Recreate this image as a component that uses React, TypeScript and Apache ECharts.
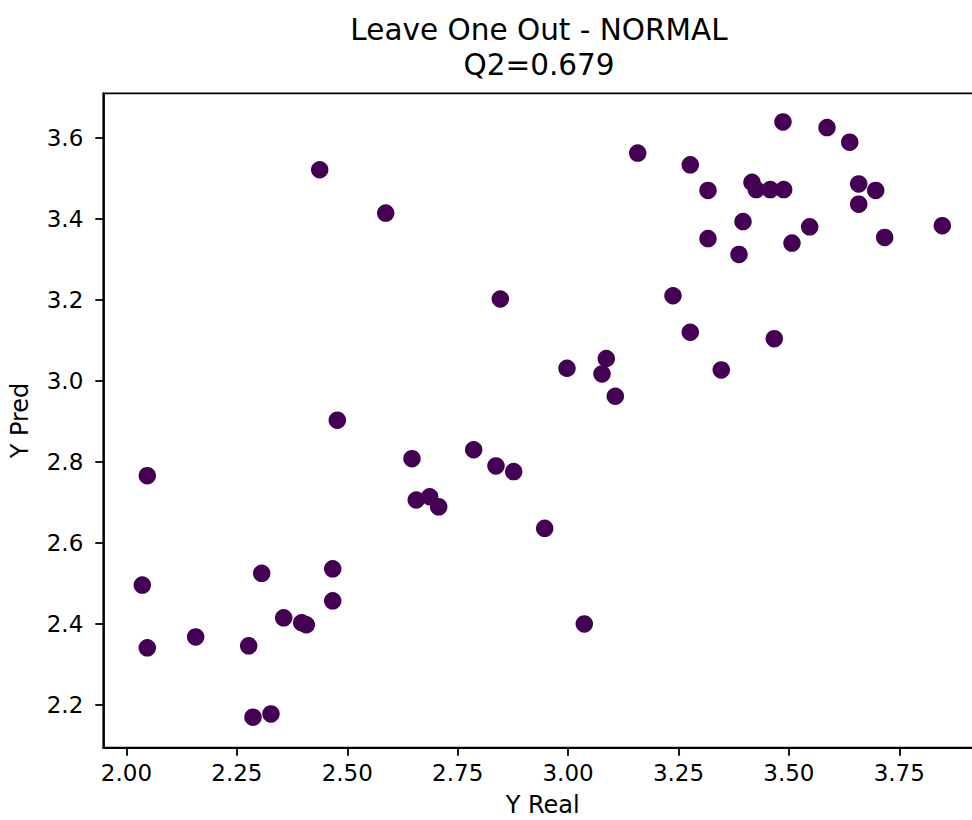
import React, { useEffect, useRef } from "react";
import * as echarts from "echarts";

const yReal = [
  2.4375, 2.587, 3.1576, 2.8465, 3.2375, 2.9975, 3.0865, 3.0768, 3.1069,
  3.4866, 3.5863, 3.6377, 3.2767, 3.3168, 3.4164, 3.4262, 3.4579, 3.4882,
  3.6581, 3.6966, 3.6581, 3.3961, 3.5471, 3.8474, 3.3168, 3.507, 3.7169,
  3.387, 3.2767, 3.4669, 3.3469, 2.4774, 2.0471, 2.0358, 2.3062, 2.467,
  2.467, 2.356, 2.3967, 2.4072, 2.1567, 2.0471, 2.2767, 2.2865, 2.3272,
  2.6465, 2.7862, 2.8367, 2.8768, 2.6562, 2.6866, 2.707, 2.947, 3.0367,
];
const yPred = [
  3.521, 3.414, 3.562, 3.202, 3.21, 3.031, 3.055, 3.017, 2.962,
  3.639, 3.625, 3.589, 3.533, 3.47, 3.49, 3.472, 3.472, 3.472,
  3.486, 3.47, 3.436, 3.393, 3.38, 3.383, 3.351, 3.34, 3.354,
  3.312, 3.12, 3.104, 3.027, 2.903, 2.766, 2.496, 2.525, 2.536,
  2.457, 2.415, 2.403, 2.398, 2.368, 2.341, 2.346, 2.17, 2.178,
  2.808, 2.83, 2.79, 2.776, 2.706, 2.714, 2.689, 2.636, 2.4,
];
const xTicks = [2.0, 2.25, 2.5, 2.75, 3.0, 3.25, 3.5, 3.75];
const yTicks = [2.2, 2.4, 2.6, 2.8, 3.0, 3.2, 3.4, 3.6];
const titleText = "Leave One Out - NORMAL";
const subtitleText = "Q2=0.679";
const xName = "Y Real";
const yName = "Y Pred";

const FONT = "DejaVu Sans";

export default function App() {
  const ref = useRef<HTMLDivElement>(null);
  useEffect(() => {
    const chart = echarts.init(ref.current!, null, { renderer: "svg" });
    const points = yReal.map((x, i) => [x, yPred[i]]);
    chart.setOption({
      animation: false,
      backgroundColor: "#ffffff",
      textStyle: { fontFamily: FONT, color: "#000" },
      graphic: [
        {
          type: "text",
          x: 539,
          y: 12,
          style: {
            text: titleText + "\n" + subtitleText,
            fill: "#000",
            fontSize: 29.5,
            fontFamily: FONT,
            align: "center",
            verticalAlign: "top",
            lineHeight: 35,
          },
        },
      ],
      grid: {
        left: 103.3,
        top: 93.3,
        width: 878.7,
        height: 654.4,
        show: true,
        borderColor: "#000",
        borderWidth: 1.8,
        backgroundColor: "transparent",
        containLabel: false,
        outerBoundsMode: "none",
      },
      xAxis: {
        type: "value",
        min: 1.9475,
        max: 3.9373,
        name: xName,
        nameLocation: "middle",
        nameGap: 45,
        nameTextStyle: { fontSize: 24, color: "#000", fontFamily: FONT },
        splitLine: { show: false },
        axisLine: { show: true, onZero: false, lineStyle: { color: "#000", width: 1.8 } },
        axisTick: {
          show: true,
          inside: false,
          length: 8,
          customValues: xTicks,
          lineStyle: { color: "#000", width: 1.8 },
        },
        axisLabel: {
          customValues: xTicks,
          formatter: (v: number) => v.toFixed(2),
          fontSize: 23,
          color: "#000",
          fontFamily: FONT,
          margin: 14,
        },
      },
      yAxis: {
        type: "value",
        min: 2.0946,
        max: 3.7096,
        name: yName,
        nameLocation: "middle",
        nameGap: 71,
        nameRotate: 90,
        nameTextStyle: { fontSize: 24, color: "#000", fontFamily: FONT },
        splitLine: { show: false },
        axisLine: { show: true, onZero: false, lineStyle: { color: "#000", width: 1.8 } },
        axisTick: {
          show: true,
          inside: false,
          length: 8,
          customValues: yTicks,
          lineStyle: { color: "#000", width: 1.8 },
        },
        axisLabel: {
          customValues: yTicks,
          formatter: (v: number) => v.toFixed(1),
          fontSize: 23,
          color: "#000",
          fontFamily: FONT,
          margin: 20,
        },
      },
      series: [
        {
          type: "scatter",
          data: points,
          symbol: "circle",
          symbolSize: 17.5,
          itemStyle: { color: "#440154", opacity: 1 },
        },
      ],
    });
    return () => chart.dispose();
  }, []);
  return (
    <div
      ref={ref}
      style={{ position: "absolute", left: 0, top: 0, width: 972, height: 820 }}
    />
  );
}
